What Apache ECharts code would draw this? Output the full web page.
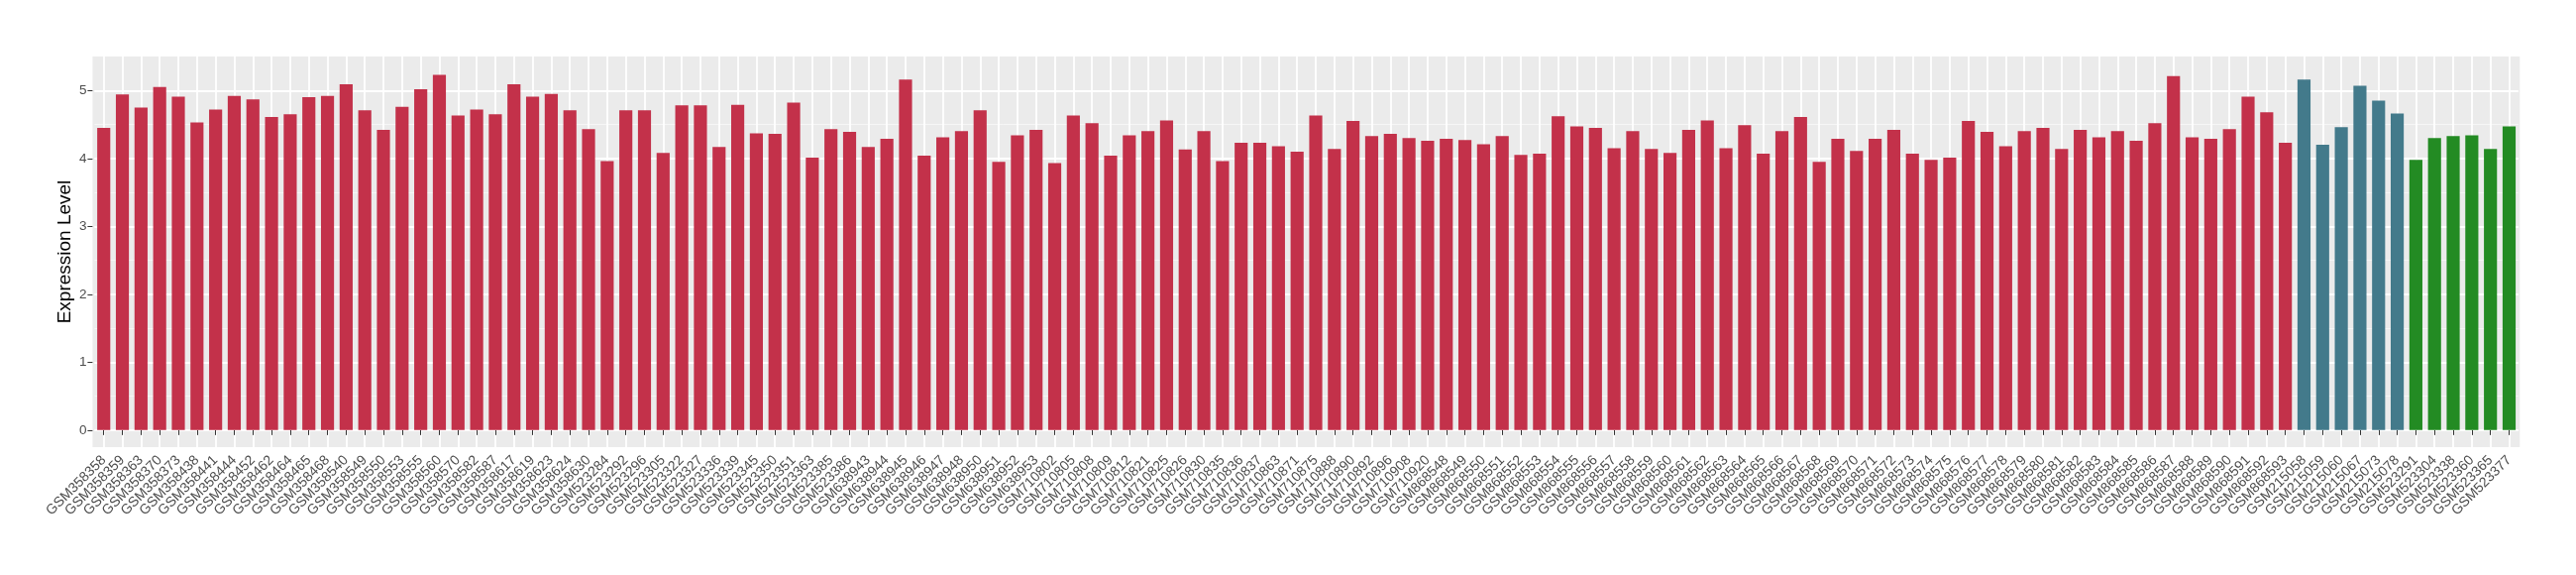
<!DOCTYPE html>
<html>
<head>
<meta charset="utf-8">
<script src="https://cdn.jsdelivr.net/npm/echarts@6/dist/echarts.min.js"></script>
<style>
html,body{margin:0;padding:0;background:#fff;}
#chart{width:2600px;height:580px;}
</style>
</head>
<body>
<div id="chart"></div>
<script>
// ---- data ----
const categories = [
 "GSM358358","GSM358359","GSM358363","GSM358370","GSM358373","GSM358438","GSM358441","GSM358444","GSM358452","GSM358462",
 "GSM358464","GSM358465","GSM358468","GSM358540","GSM358549","GSM358550","GSM358553","GSM358555","GSM358560","GSM358570",
 "GSM358582","GSM358587","GSM358617","GSM358619","GSM358623","GSM358624","GSM358630","GSM523284","GSM523292","GSM523296",
 "GSM523305","GSM523322","GSM523327","GSM523336","GSM523339","GSM523345","GSM523350","GSM523351","GSM523363","GSM523385",
 "GSM523386","GSM638943","GSM638944","GSM638945","GSM638946","GSM638947","GSM638948","GSM638950","GSM638951","GSM638952",
 "GSM638953","GSM710802","GSM710805","GSM710808","GSM710809","GSM710812","GSM710821","GSM710825","GSM710826","GSM710830",
 "GSM710835","GSM710836","GSM710837","GSM710863","GSM710871","GSM710875","GSM710888","GSM710890","GSM710892","GSM710896",
 "GSM710908","GSM710920","GSM868548","GSM868549","GSM868550","GSM868551","GSM868552","GSM868553","GSM868554","GSM868555",
 "GSM868556","GSM868557","GSM868558","GSM868559","GSM868560","GSM868561","GSM868562","GSM868563","GSM868564","GSM868565",
 "GSM868566","GSM868567","GSM868568","GSM868569","GSM868570","GSM868571","GSM868572","GSM868573","GSM868574","GSM868575",
 "GSM868576","GSM868577","GSM868578","GSM868579","GSM868580","GSM868581","GSM868582","GSM868583","GSM868584","GSM868585",
 "GSM868586","GSM868587","GSM868588","GSM868589","GSM868590","GSM868591","GSM868592","GSM868593","GSM215058","GSM215059",
 "GSM215060","GSM215067","GSM215073","GSM215078","GSM523291","GSM523304","GSM523338","GSM523360","GSM523365","GSM523377"
];
const values = [
 4.45,4.94,4.75,5.05,4.91,4.53,4.72,4.92,4.87,4.61,
 4.65,4.90,4.92,5.09,4.71,4.42,4.76,5.02,5.23,4.63,
 4.72,4.65,5.09,4.91,4.95,4.71,4.43,3.96,4.71,4.71,
 4.08,4.78,4.78,4.17,4.79,4.37,4.36,4.82,4.01,4.43,
 4.39,4.17,4.29,5.16,4.04,4.31,4.40,4.71,3.95,4.34,
 4.42,3.93,4.63,4.52,4.04,4.34,4.40,4.56,4.13,4.40,
 3.96,4.23,4.23,4.18,4.10,4.63,4.14,4.55,4.33,4.36,
 4.30,4.26,4.29,4.27,4.21,4.33,4.05,4.07,4.62,4.47,
 4.45,4.15,4.40,4.14,4.08,4.42,4.56,4.15,4.49,4.07,
 4.40,4.61,3.95,4.29,4.11,4.29,4.42,4.07,3.98,4.01,
 4.55,4.39,4.18,4.40,4.45,4.14,4.42,4.31,4.40,4.26,
 4.52,5.21,4.31,4.29,4.43,4.91,4.68,4.23,5.16,4.20,
 4.46,5.07,4.85,4.66,3.98,4.30,4.33,4.34,4.14,4.47
];
// consecutive group sizes (in category order) and their colours
const groupSizes = [118, 6, 6];
const groupColors = ["#C3314A", "#437A8B", "#238B23"];
const yTicks = [0, 1, 2, 3, 4, 5];
const yTitle = "Expression Level";

// ---- build ----
const colorOf = [];
groupSizes.forEach((n, g) => { for (let i = 0; i < n; i++) colorOf.push(groupColors[g]); });
const barData = values.map((v, i) => ({ value: v, itemStyle: { color: colorOf[i] } }));

const yMin = -0.25, yMax = 5.5, step = 0.25;
const nLines = Math.round((yMax - yMin) / step) + 1;
const majorCols = [], minorCols = [];
for (let i = 0; i < nLines; i++) {
  const v = Math.round((yMin + i * step) * 100) / 100;
  const isMajor = Number.isInteger(v) && v <= 5;
  const isMinor = !isMajor && Math.abs(v * 2 - Math.round(v * 2)) < 1e-9 && v > 0 && v < 5.5;
  majorCols.push(isMajor ? "#FFFFFF" : "rgba(0,0,0,0)");
  minorCols.push(isMinor ? "#F6F6F6" : "rgba(0,0,0,0)");
}

const FONT = "'Liberation Sans', Arial, Helvetica, sans-serif";
const chart = echarts.init(document.getElementById("chart"), null, { renderer: "canvas" });
const hiddenY = (cols, w) => ({
  type: "value", min: yMin, max: yMax, interval: step, position: "left", gridIndex: 0,
  axisLine: { show: false }, axisTick: { show: false }, axisLabel: { show: false },
  splitLine: { show: true, lineStyle: { color: cols, width: w } }
});
chart.setOption({
  animation: false,
  backgroundColor: "#FFFFFF",
  grid: [
    { left: 95.3, right: 58.1, top: 57, bottom: 129, show: true, backgroundColor: "#EBEBEB", borderWidth: 0, containLabel: false },
    { left: 93.4, right: 56.7, top: 57, bottom: 129, show: true, backgroundColor: "#EBEBEB", borderWidth: 0, containLabel: false, z: -1 }
  ],
  xAxis: {
    type: "category", data: categories, boundaryGap: true, gridIndex: 0,
    axisLine: { show: false },
    axisTick: { show: true, alignWithLabel: true, interval: 0, length: 5, lineStyle: { color: "#333333", width: 1 } },
    splitLine: { show: true, alignWithLabel: true, interval: 0, lineStyle: { color: "#FFFFFF", width: 1.8 } },
    axisLabel: { interval: 0, rotate: 45, align: "right", verticalAlign: "middle", margin: 11,
      fontFamily: FONT, fontSize: 14, color: "#4D4D4D" }
  },
  yAxis: [
    hiddenY(minorCols, 1),
    hiddenY(majorCols, 1.8),
    {
      type: "value", min: yMin, max: yMax, position: "left", offset: 1.9, gridIndex: 0,
      axisLine: { show: false }, splitLine: { show: false },
      axisTick: { show: true, customValues: yTicks, length: 5, lineStyle: { color: "#333333", width: 1 } },
      axisLabel: { customValues: yTicks, margin: 6, fontFamily: FONT, fontSize: 13.5, color: "#4D4D4D" },
      name: yTitle, nameLocation: "middle", nameRotate: 90, nameGap: 18.5, nameMoveOverlap: false,
      nameTextStyle: { fontFamily: FONT, fontSize: 19, color: "#000000" }
    }
  ],
  series: [{
    type: "bar", data: barData, xAxisIndex: 0, yAxisIndex: 0,
    barWidth: "70%", barGap: "0%"
  }]
});
</script>
</body>
</html>
